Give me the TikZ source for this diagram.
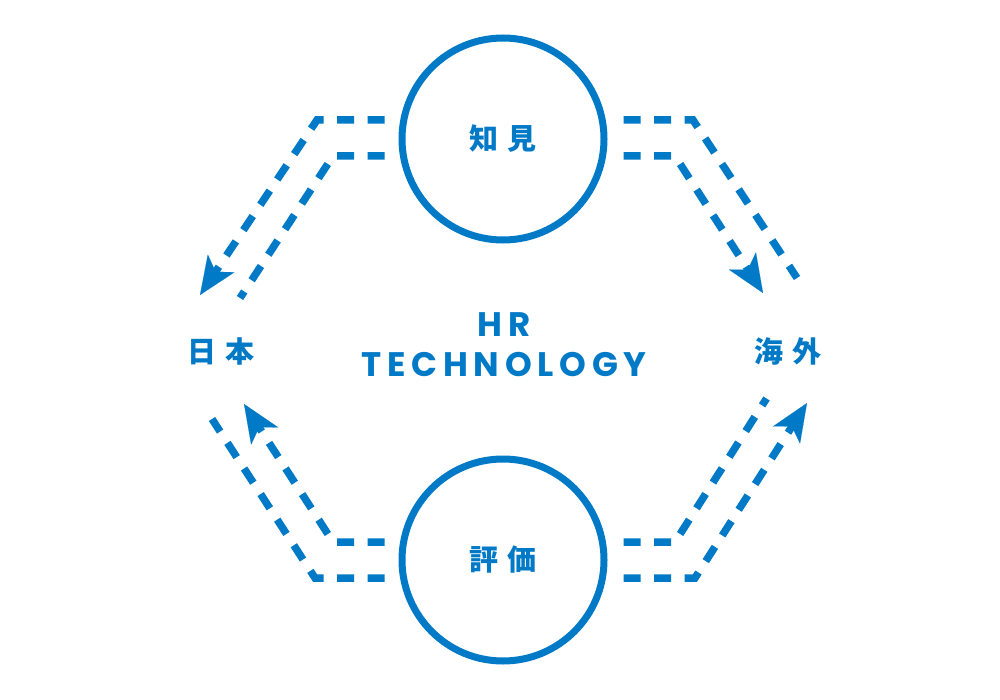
\documentclass[tikz,border=0pt]{standalone}
\usepackage{fontspec}
\usetikzlibrary{arrows.meta}
\newfontfamily\jpfont{Noto Sans CJK JP}[LetterSpace=28]
\newfontfamily\hrfont{Poppins}[LetterSpace=17]
\definecolor{hrblue}{HTML}{0079C6}
\tikzset{
  ring/.style={circle, draw=hrblue, line width=7pt, minimum size=202pt, inner sep=0pt,
    text=hrblue, font=\jpfont\bfseries\fontsize{29}{29}\selectfont},
  place/.style={text=hrblue, font=\jpfont\bfseries\fontsize{29}{29}\selectfont},
  flow/.style={draw=hrblue, line width=7.5pt, dash pattern=on 17pt off 13.5pt},
  flowtip/.style={flow, -{Stealth[length=38pt, width=32pt, inset=10pt, line width=0.1pt]}}
}
\begin{document}
\begin{tikzpicture}[x=1pt, y=-1pt]
  \useasboundingbox (0,0) rectangle (1000,700);
  \node[ring] (know) at (503,139) {知見};
  \node[ring] (eval) at (503,560) {評価};
  \node[place] (jp) at (221,351) {日本};
  \node[place] (os) at (788,351) {海外};
  \node[text=hrblue, align=center, font=\hrfont\bfseries\fontsize{34}{40}\selectfont] (hr) at (504,345) {HR\\TECHNOLOGY};
  % corners and ends of the flows
  \coordinate (tlo) at (317,120); \coordinate (tli) at (333,156);
  \coordinate (tro) at (693,120); \coordinate (tri) at (675,156);
  \coordinate (blo) at (315,578); \coordinate (bli) at (333,542);
  \coordinate (bro) at (695,578); \coordinate (bri) at (675,542);
  \coordinate (tloend) at (200,295); \coordinate (tliend) at (240,298);
  \coordinate (troend) at (797,278); \coordinate (triend) at (763,293);
  \coordinate (bloend) at (212,419); \coordinate (bliend) at (244,404);
  \coordinate (broend) at (807,403); \coordinate (briend) at (766.5,398.5);
  \draw[flowtip] (know.west |- tlo) ++(-14,0) -- (tlo) -- (tloend);
  \draw[flow] (know.west |- tli) ++(-14,0) -- (tli) -- (tliend);
  \draw[flow] (know.east |- tro) ++(16,0) -- (tro) -- (troend);
  \draw[flowtip] (know.east |- tri) ++(16,0) -- (tri) -- (triend);
  \draw[flow] (eval.west |- blo) ++(-14,0) -- (blo) -- (bloend);
  \draw[flowtip] (eval.west |- bli) ++(-14,0) -- (bli) -- (bliend);
  \draw[flow] (eval.east |- bri) ++(16,0) -- (bri) -- (briend);
  \draw[flowtip] (eval.east |- bro) ++(16,0) -- (bro) -- (broend);
\end{tikzpicture}
\end{document}
